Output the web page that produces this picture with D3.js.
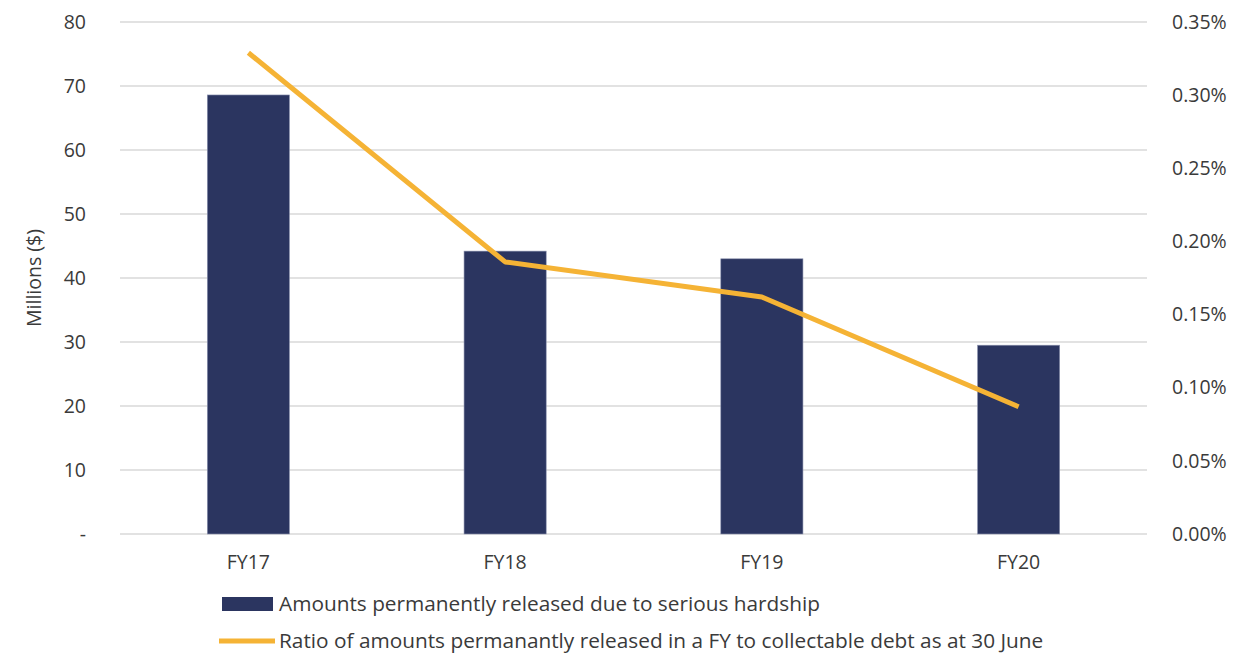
<!DOCTYPE html>
<html>
<head>
<meta charset="utf-8">
<script src="https://cdn.jsdelivr.net/npm/d3@7"></script>
<style>
  html, body { margin: 0; padding: 0; background: #ffffff; }
  svg text { font-family: "Open Sans", "Liberation Sans", sans-serif; fill: #3a3a3a; }
</style>
</head>
<body>
<svg id="chart" width="1242" height="654"></svg>
<script>
// Financial years shown on the category axis
const years = ["FY17", "FY18", "FY19", "FY20"];
// Amounts permanently released due to serious hardship, $ millions
const released = [68.6, 44.2, 43.0, 29.5];
// Ratio of released amounts to collectable debt at 30 June, percent
const ratio = [0.329, 0.186, 0.162, 0.087];
// Axis tick values
const leftTicks = [0, 10, 20, 30, 40, 50, 60, 70, 80];
const rightTicks = [0, 0.05, 0.10, 0.15, 0.20, 0.25, 0.30, 0.35];
// Legend entries
const legendLabels = [
  "Amounts permanently released due to serious hardship",
  "Ratio of amounts permanantly released in a FY to collectable debt as at 30 June"
];

const svg = d3.select("#chart");
const plotLeft = 120, plotRight = 1147, plotTop = 22, plotBottom = 534;
const barColor = "#2B3560", lineColor = "#F5B335", gridColor = "#D9D9D9";
const tickFont = 19.5, legendFont = 20.8;

const x = d3.scaleBand().domain(years).range([plotLeft, plotRight]).paddingInner(0.68).paddingOuter(0.34);
const yL = d3.scaleLinear().domain([0, 80]).range([plotBottom, plotTop]);
const yR = d3.scaleLinear().domain([0, 0.35]).range([plotBottom, plotTop]);

// Horizontal gridlines
svg.append("g").selectAll("line").data(leftTicks).join("line")
  .attr("x1", plotLeft).attr("x2", plotRight)
  .attr("y1", d => yL(d)).attr("y2", d => yL(d))
  .attr("stroke", gridColor).attr("stroke-width", 1.3);

// Left axis labels
const axL = svg.append("g").attr("transform", `translate(${plotLeft - 34},0)`)
  .call(d3.axisLeft(yL).tickValues(leftTicks).tickSize(0).tickPadding(0)
    .tickFormat(d => d === 0 ? "-" : d));
axL.select(".domain").remove();
axL.attr("font-family", null);
axL.selectAll("text").attr("font-size", tickFont).attr("fill", "#3a3a3a");

// Right axis labels
const axR = svg.append("g").attr("transform", `translate(${plotRight + 25},0)`)
  .call(d3.axisRight(yR).tickValues(rightTicks).tickSize(0).tickPadding(0)
    .tickFormat(d => d3.format(".2f")(d) + "%"));
axR.select(".domain").remove();
axR.attr("font-family", null);
axR.selectAll("text").attr("font-size", tickFont).attr("fill", "#3a3a3a");

// Category labels
const axB = svg.append("g").attr("transform", `translate(0,${plotBottom + 18})`)
  .call(d3.axisBottom(x).tickSize(0).tickPadding(0));
axB.select(".domain").remove();
axB.attr("font-family", null);
axB.selectAll("text").attr("font-size", tickFont).attr("fill", "#3a3a3a").attr("dy", "0.85em");

// Left axis title
svg.append("text")
  .attr("transform", `translate(41,${(plotTop + plotBottom) / 2}) rotate(-90)`)
  .attr("text-anchor", "middle")
  .attr("font-size", tickFont)
  .text("Millions ($)");

// Bars
svg.append("g").selectAll("rect").data(years).join("rect")
  .attr("x", d => x(d))
  .attr("y", (d, i) => yL(released[i]))
  .attr("width", x.bandwidth())
  .attr("height", (d, i) => plotBottom - yL(released[i]))
  .attr("fill", barColor)
  .attr("stroke", "#8E94B0").attr("stroke-width", 0.6);

// Ratio line
const line = d3.line()
  .x((d, i) => x(years[i]) + x.bandwidth() / 2)
  .y(d => yR(d));
svg.append("path").datum(ratio)
  .attr("d", line)
  .attr("fill", "none")
  .attr("stroke", lineColor)
  .attr("stroke-width", 5)
  .attr("stroke-linejoin", "round");

// Legend
const lg = svg.append("g");
lg.append("rect").attr("x", 222).attr("y", 597).attr("width", 51).attr("height", 14)
  .attr("fill", barColor);
lg.append("text").attr("x", 279).attr("y", 611).attr("font-size", legendFont).text(legendLabels[0]);
lg.append("line").attr("x1", 219).attr("x2", 275).attr("y1", 641).attr("y2", 641)
  .attr("stroke", lineColor).attr("stroke-width", 5);
lg.append("text").attr("x", 279).attr("y", 648).attr("font-size", legendFont).text(legendLabels[1]);
</script>
</body>
</html>
